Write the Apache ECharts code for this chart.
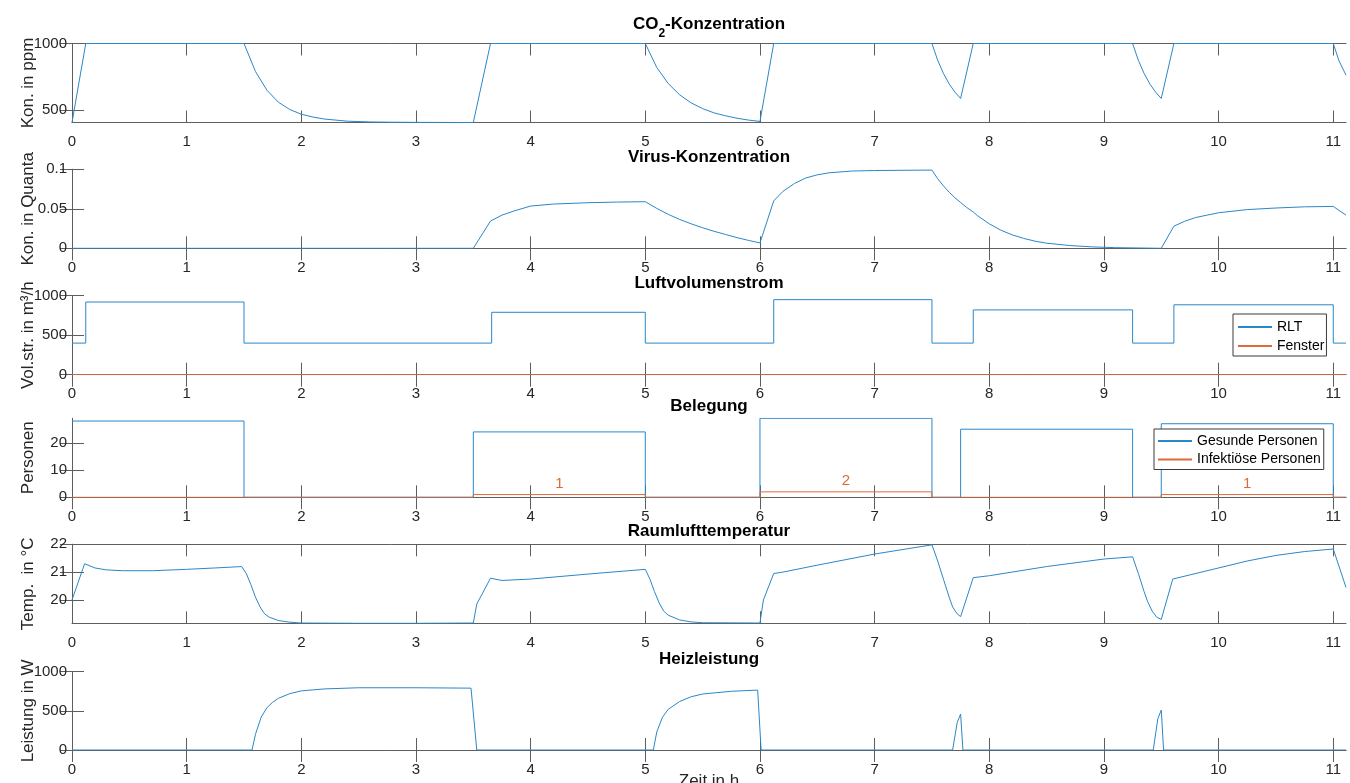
<!DOCTYPE html>
<html>
<head>
<meta charset="utf-8">
<script src="https://cdn.jsdelivr.net/npm/echarts@6/dist/echarts.min.js"></script>
<style>
  html, body { margin: 0; padding: 0; background: #ffffff; }
  #chart { width: 1350px; height: 783px; }
</style>
</head>
<body>
<div id="chart"></div>
<script>
// ---- time axis (hours) ----
const timeMax = 11.111;
const timeTicks = [0, 1, 2, 3, 4, 5, 6, 7, 8, 9, 10, 11];

// ---- CO2 concentration (ppm) ----
const co2Time  = [0, 0.12, 1.5, 1.6, 1.7, 1.8, 1.9, 2.0, 2.1, 2.2, 2.4, 2.6, 2.8, 3.0, 3.5, 3.65, 5.0, 5.1, 5.2, 5.3, 5.4, 5.5, 5.6, 5.7, 5.8, 5.9, 6.0, 6.12, 7.5, 7.55, 7.6, 7.65, 7.7, 7.75, 7.86, 9.25, 9.3, 9.35, 9.4, 9.45, 9.5, 9.61, 11.0, 11.05, 11.111];
const co2Value = [408, 1000, 1000, 790, 650, 560, 505, 470, 449, 434, 418, 412, 410, 409, 408, 1000, 1000, 820, 700, 615, 555, 512, 480, 458, 440, 426, 416, 1000, 1000, 874, 776, 697, 636, 588, 1000, 1000, 874, 776, 697, 636, 588, 1000, 1000, 870, 763];
const co2Range = [408, 1000];
const co2Ticks = [500, 1000];

// ---- virus concentration (quanta) ----
const virusTime  = [0, 3.5, 3.65, 3.75, 3.85, 4.0, 4.2, 4.5, 4.75, 5.0, 5.1, 5.2, 5.3, 5.4, 5.5, 5.6, 5.7, 5.8, 5.9, 6.0, 6.12, 6.2, 6.3, 6.4, 6.5, 6.6, 6.8, 7.0, 7.5, 7.55, 7.6, 7.65, 7.7, 7.75, 7.8, 7.86, 7.9, 8.0, 8.1, 8.2, 8.3, 8.4, 8.5, 8.7, 8.9, 9.1, 9.5, 9.61, 9.7, 9.8, 9.9, 10.0, 10.25, 10.5, 10.75, 11.0, 11.05, 11.111];
const virusValue = [0, 0, 0.0345, 0.042, 0.047, 0.0535, 0.056, 0.0577, 0.0585, 0.059, 0.0505, 0.043, 0.0365, 0.031, 0.026, 0.0215, 0.0175, 0.0135, 0.010, 0.0068, 0.060, 0.072, 0.082, 0.089, 0.093, 0.0955, 0.0978, 0.0985, 0.099, 0.088, 0.079, 0.071, 0.064, 0.058, 0.052, 0.046, 0.041, 0.031, 0.023, 0.017, 0.0125, 0.009, 0.0065, 0.0035, 0.0018, 0.0008, 0, 0.028, 0.034, 0.039, 0.042, 0.045, 0.049, 0.051, 0.0525, 0.053, 0.048, 0.042];
const virusRange = [0, 0.1];
const virusTicks = [0, 0.05, 0.1];

// ---- air volume flow (m3/h) ----
const rltStart = [0.12, 3.66, 6.12, 7.86, 9.61];
const rltEnd   = [1.5, 5.0, 7.5, 9.25, 11.0];
const rltFlow  = [920, 790, 950, 820, 885];
const rltIdle  = 400;
const windowFlow = 0;
const flowRange = [0, 1000];
const flowTicks = [0, 500, 1000];

// ---- occupancy (persons) ----
const healthyStart = [0, 3.5, 6.0, 7.75, 9.5];
const healthyEnd   = [1.5, 5.0, 7.5, 9.25, 11.0];
const healthyCount = [28, 24, 29, 25, 27];
const infectedStart = [3.5, 6.0, 9.5];
const infectedEnd   = [5.0, 7.5, 11.0];
const infectedCount = [1, 2, 1];
const personRange = [0, 29];
const personTicks = [0, 10, 20];

// ---- room air temperature (degC) ----
const tempTime  = [0, 0.11, 0.2, 0.3, 0.45, 0.7, 1.0, 1.25, 1.48, 1.52, 1.56, 1.6, 1.64, 1.68, 1.72, 1.8, 1.9, 2.0, 2.5, 3.0, 3.5, 3.53, 3.65, 3.75, 4.0, 4.5, 5.0, 5.04, 5.08, 5.12, 5.16, 5.2, 5.3, 5.4, 5.5, 6.0, 6.03, 6.12, 6.2, 6.5, 7.0, 7.5, 7.55, 7.6, 7.65, 7.68, 7.72, 7.75, 7.86, 8.0, 8.5, 9.0, 9.25, 9.3, 9.35, 9.38, 9.42, 9.46, 9.5, 9.6, 9.75, 10.0, 10.25, 10.5, 10.75, 11.0, 11.111];
const tempValue = [20.0, 21.3, 21.15, 21.08, 21.05, 21.05, 21.1, 21.15, 21.2, 20.95, 20.55, 20.1, 19.75, 19.5, 19.38, 19.26, 19.2, 19.17, 19.16, 19.16, 19.17, 19.85, 20.78, 20.7, 20.75, 20.93, 21.1, 20.75, 20.3, 19.9, 19.6, 19.45, 19.28, 19.21, 19.18, 19.17, 20.0, 20.95, 21.0, 21.25, 21.65, 21.98, 21.4, 20.75, 20.1, 19.75, 19.5, 19.4, 20.8, 20.87, 21.2, 21.47, 21.55, 20.95, 20.3, 19.95, 19.6, 19.38, 19.3, 20.75, 20.9, 21.15, 21.4, 21.6, 21.74, 21.83, 20.45];
const tempRange = [19.16, 22];
const tempTicks = [20, 21, 22];

// ---- heating power (W) ----
const heatTime  = [0, 1.57, 1.6, 1.65, 1.7, 1.75, 1.8, 1.9, 2.0, 2.2, 2.5, 3.0, 3.48, 3.53, 5.07, 5.1, 5.15, 5.2, 5.3, 5.4, 5.5, 5.75, 5.98, 6.01, 7.68, 7.72, 7.75, 7.77, 9.43, 9.47, 9.5, 9.52, 11.111];
const heatValue = [0, 0, 200, 420, 540, 610, 660, 720, 755, 780, 795, 795, 790, 0, 0, 230, 420, 520, 620, 680, 715, 750, 765, 0, 0, 350, 460, 0, 0, 400, 510, 0, 0];
const heatRange = [0, 1000];
const heatTicks = [0, 500, 1000];

// ---- helpers ----
function pairs(t, v) { return t.map((x, i) => [x, v[i]]); }

// rectangular on/off profile from block starts, ends and levels
function blocks(starts, ends, levels, base, tEnd) {
  const pts = [];
  let cursor = 0;
  starts.forEach((s, i) => {
    if (s > cursor) { pts.push([cursor, base]); pts.push([s, base]); }
    pts.push([s, levels[i]]);
    pts.push([ends[i], levels[i]]);
    pts.push([ends[i], base]);
    cursor = ends[i];
  });
  pts.push([tEnd, base]);
  return pts;
}

const BLUE = '#2a87c8';
const ORANGE = '#de6a3a';
const AXIS = '#5e5e5e';
const TEXT = '#262626';
const FONT = '"Liberation Sans", Arial, Helvetica, sans-serif';

// panel frames (pixel layout)
const panels = [
  { top: 43.5,  height: 79, titleY: 14,  title: '{a|CO}{s|2}{a|-Konzentration}', yName: 'Kon. in ppm',       range: co2Range,    ticks: co2Ticks },
  { top: 169.3, height: 79, titleY: 147, title: 'Virus-Konzentration',            yName: 'Kon. in Quanta',    range: virusRange,  ticks: virusTicks },
  { top: 295.7, height: 79, titleY: 273, title: 'Luftvolumenstrom',               yName: 'Vol.str. in m³/h', range: flowRange,   ticks: flowTicks },
  { top: 418.3, height: 79, titleY: 396, title: 'Belegung',                       yName: 'Personen',          range: personRange, ticks: personTicks },
  { top: 544.3, height: 79, titleY: 521, title: 'Raumlufttemperatur',             yName: 'Temp.  in °C',      range: tempRange,   ticks: tempTicks },
  { top: 671.7, height: 78.3, titleY: 649, title: 'Heizleistung',                 yName: 'Leistung in W',     range: heatRange,   ticks: heatTicks }
];

const plain = v => String(v);

const grid = [], xAxis = [], yAxis = [], title = [];
panels.forEach((p, i) => {
  grid.push({ left: 72, width: 1274, top: p.top, height: p.height, containLabel: false, outerBoundsMode: 'none' });
  const common = { type: 'value', gridIndex: i, min: 0, max: timeMax, splitLine: { show: false },
    axisLine: { show: true, lineStyle: { color: AXIS, width: 1 } } };
  xAxis.push(Object.assign({}, common, {
    position: 'bottom',
    axisTick: { show: true, inside: true, length: 12, customValues: timeTicks, lineStyle: { color: AXIS } },
    axisLabel: { show: true, customValues: timeTicks, margin: 12, color: TEXT, fontSize: 15, fontFamily: FONT, formatter: plain },
    name: i === panels.length - 1 ? 'Zeit in h' : '',
    nameLocation: 'middle', nameGap: 23, nameMoveOverlap: false,
    nameTextStyle: { color: TEXT, fontSize: 17, fontFamily: FONT }
  }));
  xAxis.push(Object.assign({}, common, {
    position: 'top',
    axisTick: { show: true, inside: true, length: 12, customValues: timeTicks, lineStyle: { color: AXIS } },
    axisLabel: { show: false }
  }));
  const ycommon = { type: 'value', gridIndex: i, min: p.range[0], max: p.range[1], splitLine: { show: false },
    axisLine: { show: true, lineStyle: { color: AXIS, width: 1 } } };
  yAxis.push(Object.assign({}, ycommon, {
    position: 'left',
    axisTick: { show: true, inside: true, length: 12, customValues: p.ticks, lineStyle: { color: AXIS } },
    axisLabel: { show: true, customValues: p.ticks, margin: 5, color: TEXT, fontSize: 15, fontFamily: FONT, formatter: plain },
    name: p.yName, nameLocation: 'middle', nameRotate: 90, nameGap: 35, nameMoveOverlap: false,
    nameTextStyle: { color: TEXT, fontSize: 17, fontFamily: FONT }
  }));
  yAxis.push(Object.assign({}, ycommon, {
    position: 'right',
    axisTick: { show: true, inside: true, length: 12, customValues: p.ticks, lineStyle: { color: AXIS } },
    axisLabel: { show: false }
  }));
  title.push({
    text: p.title, left: 709, top: p.titleY, textAlign: 'center', padding: 0,
    textStyle: {
      fontSize: 17, fontWeight: 'bold', color: '#000', fontFamily: FONT, lineHeight: 20,
      rich: {
        a: { fontSize: 17, fontWeight: 'bold', color: '#000', fontFamily: FONT, lineHeight: 20 },
        s: { fontSize: 12, fontWeight: 'bold', color: '#000', fontFamily: FONT, lineHeight: 12, padding: [20, 0, 0, 0] }
      }
    }
  });
});

function line(name, data, panel, color) {
  return {
    name, type: 'line', data, xAxisIndex: panel * 2, yAxisIndex: panel * 2,
    symbol: 'none', showSymbol: false, animation: false,
    lineStyle: { color, width: 1 }, itemStyle: { color }, clip: true
  };
}

const infectedLabels = infectedStart.map((s, i) => ({
  coord: [(s + infectedEnd[i]) / 2, infectedCount[i]], value: infectedCount[i]
}));

const series = [
  line('CO2', pairs(co2Time, co2Value), 0, BLUE),
  line('Virus', pairs(virusTime, virusValue), 1, BLUE),
  line('RLT', blocks(rltStart, rltEnd, rltFlow, rltIdle, timeMax), 2, BLUE),
  line('Fenster', [[0, windowFlow], [timeMax, windowFlow]], 2, ORANGE),
  line('Gesunde Personen', blocks(healthyStart, healthyEnd, healthyCount, 0, timeMax), 3, BLUE),
  Object.assign(line('Infektiöse Personen', blocks(infectedStart, infectedEnd, infectedCount, 0, timeMax), 3, ORANGE), {
    markPoint: {
      symbol: 'circle', symbolSize: 0, animation: false,
      label: { show: true, position: 'top', distance: 3, formatter: '{c}', color: ORANGE, fontSize: 15, fontFamily: FONT },
      data: infectedLabels
    }
  }),
  line('Temperatur', pairs(tempTime, tempValue), 4, BLUE),
  line('Heizleistung', pairs(heatTime, heatValue), 5, BLUE)
];

const legendCommon = {
  orient: 'vertical', itemWidth: 34, itemHeight: 14, itemGap: 5,
  backgroundColor: '#ffffff', borderColor: '#3a3a3a', borderWidth: 1, borderRadius: 0,
  itemStyle: { color: 'rgba(0,0,0,0)', borderWidth: 0, borderColor: 'rgba(0,0,0,0)' },
  textStyle: { color: '#000', fontSize: 14, fontFamily: FONT }, selectedMode: false
};
const legend = [
  Object.assign({}, legendCommon, { data: ['RLT', 'Fenster'], left: 1233, top: 314, padding: [6, 2, 3, 4] }),
  Object.assign({}, legendCommon, { data: ['Gesunde Personen', 'Infektiöse Personen'], left: 1154, top: 429, padding: [5, 3, 3, 3], itemGap: 4.5 })
];

const chart = echarts.init(document.getElementById('chart'), null, { renderer: 'canvas' });
chart.setOption({
  animation: false,
  backgroundColor: '#ffffff',
  title, grid, xAxis, yAxis, legend, series
});
</script>
</body>
</html>
